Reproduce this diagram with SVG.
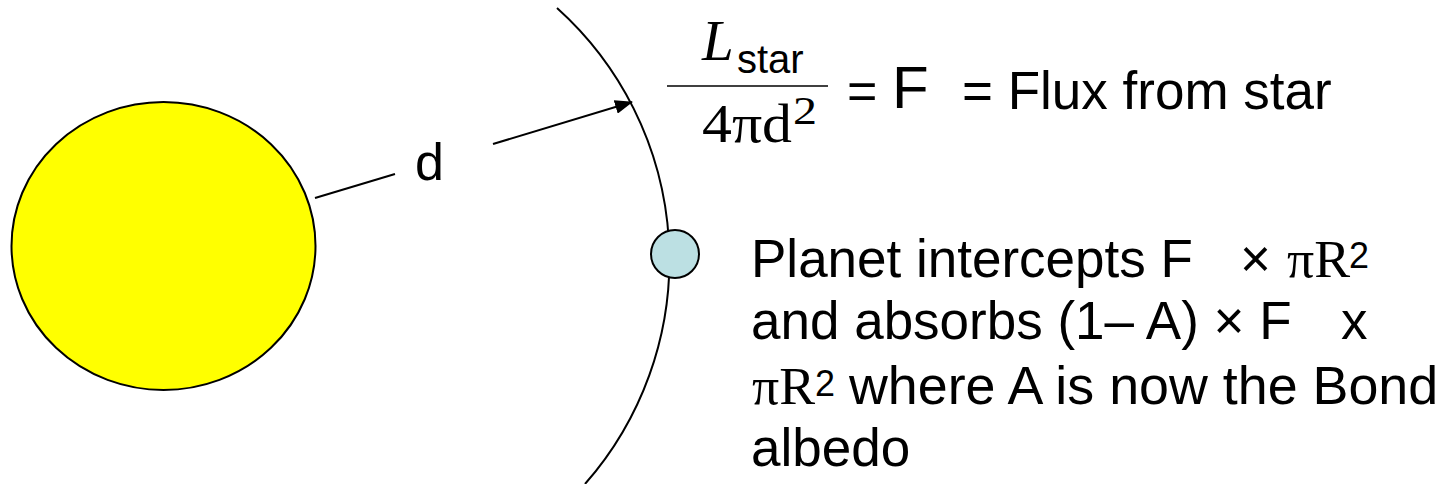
<svg xmlns="http://www.w3.org/2000/svg" width="1450" height="484" viewBox="0 0 1450 484">
<defs>
<style>
.sans{font-family:"Liberation Sans",Arial,sans-serif;fill:#000}
.serif{font-family:"Liberation Serif","Times New Roman",serif;fill:#000}
.ln{stroke:#000;stroke-width:2;fill:none}
</style>
<marker id="ah" viewBox="0 0 18 14" refX="17" refY="7" markerWidth="18" markerHeight="14" markerUnits="userSpaceOnUse" orient="auto">
<path d="M0,0 L18,7 L0,14 z" fill="#000"/>
</marker>
</defs>
<rect width="1450" height="484" fill="#fff"/>
<g id="orbit">
<path class="ln" d="M557 8 A339 339 0 0 1 585 484"/>
</g>
<g id="star">
<ellipse cx="163.5" cy="246" rx="152" ry="144" fill="#ffff00" stroke="#000" stroke-width="2"/>
</g>
<g id="planet">
<circle cx="675" cy="254" r="24" fill="#bce0e3" stroke="#000" stroke-width="2"/>
</g>
<g id="connectors">
<line class="ln" x1="315" y1="198" x2="395" y2="174"/>
<path class="ln" d="M493 144 L632 102" marker-end="url(#ah)"/>
</g>
<g id="d-label">
<text class="sans" x="415" y="180" font-size="52">d</text>
</g>
<g id="formula">
<text class="serif" x="702" y="60" font-size="57" font-style="italic">L</text>
<text class="sans" x="737" y="73" font-size="40">star</text>
<line x1="667" y1="86" x2="828" y2="86" stroke="#000" stroke-width="1.5"/>
<text class="serif" x="702" y="142" font-size="54" textLength="90" lengthAdjust="spacingAndGlyphs">4πd</text>
<text class="serif" x="793" y="124" font-size="40" textLength="24" lengthAdjust="spacingAndGlyphs">2</text>
<text class="sans" x="847" y="109" font-size="52">=</text>
<text class="sans" x="892" y="108" font-size="60">F</text>
<text class="sans" x="962" y="109" font-size="53">= Flux from star</text>
</g>
<g id="planet-text">
<text class="sans" x="751" y="277" font-size="53">Planet intercepts F</text>
<text class="sans" x="1240" y="277" font-size="53">×</text>
<text class="serif" x="1287" y="277" font-size="52" textLength="63" lengthAdjust="spacingAndGlyphs">πR</text>
<text class="sans" x="1349" y="268" font-size="36" textLength="20" lengthAdjust="spacingAndGlyphs">2</text>
<text class="sans" x="751" y="339" font-size="53">and absorbs (1– A) × F</text>
<text class="sans" x="1341" y="339" font-size="53">x</text>
<text class="serif" x="752" y="404" font-size="52" textLength="63" lengthAdjust="spacingAndGlyphs">πR</text>
<text class="sans" x="815" y="396" font-size="36" textLength="20" lengthAdjust="spacingAndGlyphs">2</text>
<text class="sans" x="849" y="404" font-size="53.8">where A is now the Bond</text>
<text class="sans" x="751" y="466" font-size="53">albedo</text>
</g>
</svg>
